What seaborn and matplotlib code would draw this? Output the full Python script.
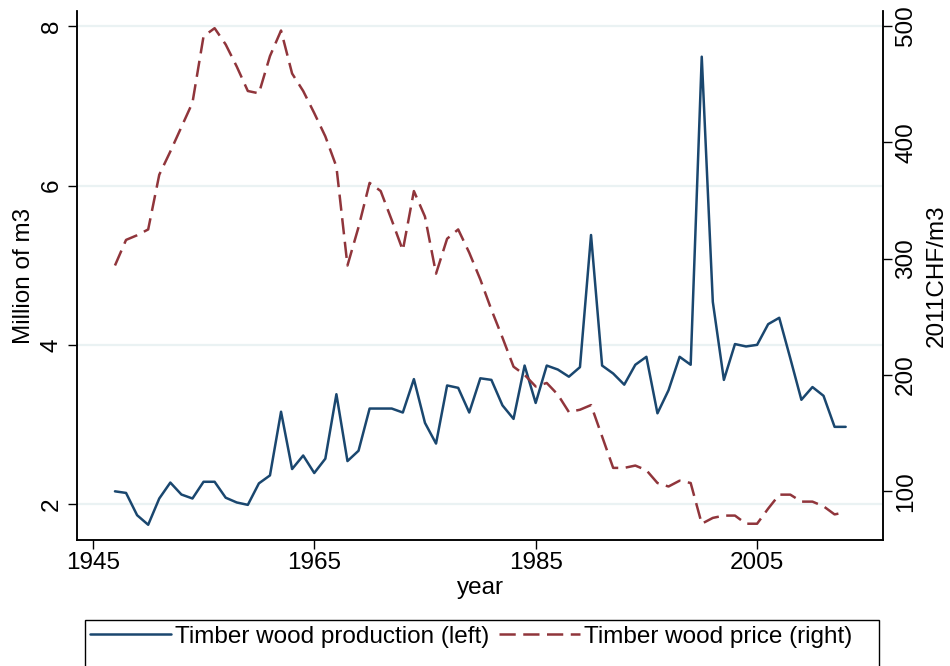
import numpy as np
import pandas as pd
import matplotlib.pyplot as plt
import seaborn as sns
from matplotlib.patches import Rectangle

# Data
years = list(range(1947, 2014))
production = [2.16, 2.14, 1.86, 1.74, 2.07, 2.27, 2.12, 2.07, 2.28, 2.28,
              2.08, 2.02, 1.99, 2.26, 2.36, 3.16, 2.44, 2.61, 2.39, 2.57,
              3.38, 2.54, 2.67, 3.20, 3.20, 3.20, 3.15, 3.57, 3.02, 2.76,
              3.49, 3.46, 3.15, 3.58, 3.56, 3.24, 3.07, 3.74, 3.27, 3.74,
              3.69, 3.60, 3.72, 5.38, 3.74, 3.64, 3.50, 3.75, 3.85, 3.14,
              3.43, 3.85, 3.75, 7.62, 4.54, 3.56, 4.01, 3.98, 4.00, 4.26,
              4.34, 3.83, 3.31, 3.47, 3.36, 2.97, 2.97]
price = [294, 316, 320, 325, 372, 392, 413, 434, 491, 498,
         484, 465, 444, 442, 474, 496, 459, 444, 425, 405,
         379, 294, 327, 365, 358, 333, 307, 358, 336, 287,
         317, 325, 305, 282, 256, 232, 207, 200, 190, 193,
         183, 168, 170, 174, 147, 120, 120, 122, 118, 107,
         104, 109, 107, 72, 77, 79, 79, 72, 72, 85,
         97, 97, 91, 91, 87, 80, 82]

df = pd.DataFrame({'year': years, 'production': production, 'price': price})

blue = '#1a476f'
red = '#90353b'

sns.set_theme(style='white')
plt.rcParams['font.family'] = ['Liberation Sans', 'DejaVu Sans']
plt.rcParams['text.color'] = 'black'
plt.rcParams['axes.labelcolor'] = 'black'
plt.rcParams['xtick.color'] = 'black'
plt.rcParams['ytick.color'] = 'black'
fs = 17.5

fig = plt.figure(figsize=(9.5, 6.66), dpi=100)
ax = fig.add_axes([0.0814, 0.189, 0.8484, 0.794])
ax2 = ax.twinx()

sns.lineplot(data=df, x='year', y='production', ax=ax, color=blue, lw=1.8,
             label='Timber wood production (left)', legend=False)
sns.lineplot(data=df, x='year', y='price', ax=ax2, color=red, lw=1.8,
             label='Timber wood price (right)', legend=False)
ax2.lines[0].set_dashes([6.5, 3])

ax.set_xlim(1943.6, 2016.4)
ax.set_xticks([1945, 1965, 1985, 2005])
ax.set_ylim(1.547, 8.19)
ax.set_yticks([2, 4, 6, 8])
ax2.set_ylim(57.9, 512.5)
ax2.set_yticks([100, 200, 300, 400, 500])

ax.yaxis.grid(True, color='#eaf2f3', lw=1.6)
ax.xaxis.grid(False)
ax2.grid(False)

for a in (ax, ax2):
    a.spines['top'].set_visible(False)
    for s in ('left', 'right', 'bottom'):
        a.spines[s].set_color('black')
        a.spines[s].set_linewidth(1.1)

ax.tick_params(axis='both', which='major', direction='out', length=6.5, width=1,
               colors='black', labelsize=fs, pad=2, bottom=True, left=True)
ax.tick_params(axis='y', labelrotation=90, pad=4)
ax2.tick_params(axis='y', direction='out', length=6.5, width=1, colors='black',
                labelsize=fs, pad=2, right=True, labelrotation=90)
for lbl in ax.get_yticklabels() + ax2.get_yticklabels():
    lbl.set_va('center')

ax.set_xlabel('year', fontsize=fs, labelpad=2)
ax.set_ylabel('Million of m3', fontsize=fs, labelpad=4)
ax2.set_ylabel('2011CHF/m3', fontsize=fs, labelpad=6)

# legend box (extends past the bottom edge, as in the reference)
box_top = 1 - 620 / 666
fig.patches.append(Rectangle((85 / 950, -0.05), 794 / 950, box_top + 0.05,
                             transform=fig.transFigure, fill=False,
                             edgecolor='black', lw=1.0))
handles = [ax.lines[0], ax2.lines[0]]
labels = ['Timber wood production (left)', 'Timber wood price (right)']
fig.legend(handles, labels, loc='upper left', ncol=2,
           bbox_to_anchor=(83 / 950, box_top + 0.002), fontsize=fs,
           frameon=False, handlelength=3.3, handletextpad=0.2,
           columnspacing=0.4, borderpad=0.3, borderaxespad=0)

fig.savefig('out.png', dpi=100)
